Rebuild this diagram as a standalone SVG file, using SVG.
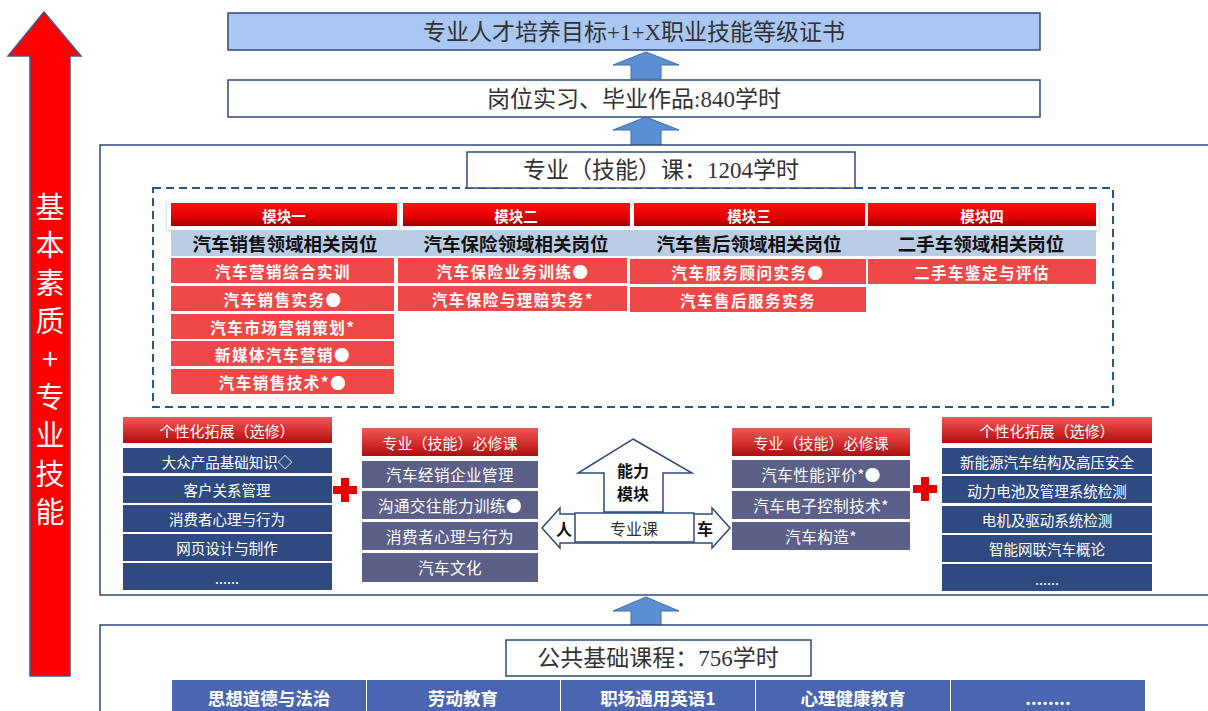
<svg xmlns="http://www.w3.org/2000/svg" width="1208" height="711" viewBox="0 0 1208 711">
<defs>
<linearGradient id="gMod" x1="0" y1="0" x2="0" y2="1">
<stop offset="0" stop-color="#ff1010"/><stop offset="0.65" stop-color="#e00000"/><stop offset="1" stop-color="#980000"/>
</linearGradient>
<linearGradient id="gHdr" x1="0" y1="0" x2="0" y2="1">
<stop offset="0" stop-color="#ea5a5a"/><stop offset="0.5" stop-color="#d83030"/><stop offset="1" stop-color="#a81010"/>
</linearGradient>
<filter id="sh" x="-5%" y="-40%" width="110%" height="180%"><feDropShadow dx="0" dy="1" stdDeviation="1.5" flood-color="#777" flood-opacity="0.5"/></filter>
</defs>
<style>
.frame{fill:#fff;stroke:#2f4a7c;stroke-width:1.5}
.serif{font-family:'Liberation Serif','Noto Sans CJK SC',serif;fill:#333;font-size:23px}
text{font-family:'Noto Sans CJK SC',sans-serif;text-anchor:middle;dominant-baseline:central}
.mod{fill:url(#gMod)}
.modbox{fill:#fff;filter:url(#sh)}
.modt{fill:#fff;font-size:14.5px;font-weight:bold}
.post{fill:#111;font-size:18.5px;font-weight:bold}
.rc{fill:#f04848}
.rct{fill:#fff;font-size:15.5px;font-weight:bold;letter-spacing:1.5px}
.nv{fill:#2f4a80}
.sl{fill:#5c6088}
.hdr{fill:url(#gHdr)}
.hdrt{fill:#fff;font-size:15px}
.nvt{fill:#fff;font-size:14.5px}
.slt{fill:#fff;font-size:15.5px;letter-spacing:0.5px}
.blu{fill:#4a66b0}
.blut{fill:#fff;font-size:17.5px;font-weight:bold}
.arr{fill:#5b8fd3;stroke:#3e6cad;stroke-width:1}
.shape{fill:#fff;stroke:#2e4a7a;stroke-width:1.5}
.cross{fill:#e80000}
.ab{font-size:16px;font-weight:bold;fill:#111}
</style>

<g id="growth-arrow">
<polygon points="44,12 81,56 70,56 70,676 30,676 30,56 8,56" fill="#ff0000" stroke="#3d5a8f" stroke-width="1.5"/>
<g fill="#fff" font-size="29">
<text x="50" y="205">基</text>
<text x="50" y="243">本</text>
<text x="50" y="281">素</text>
<text x="50" y="319">质</text>
<text x="50" y="357">+</text>
<text x="50" y="395">专</text>
<text x="50" y="433">业</text>
<text x="50" y="472">技</text>
<text x="50" y="510">能</text>
</g>
</g>

<g id="goal">
<rect x="228" y="13" width="812" height="37" fill="#a9c7f2" stroke="#2f4a7c" stroke-width="1.5"/>
<text class="serif" x="634" y="32">专业人才培养目标+1+X职业技能等级证书</text>
</g>

<g id="internship">
<rect class="frame" x="228" y="80" width="812" height="37"/>
<text class="serif" x="634" y="99">岗位实习、毕业作品:840学时</text>
</g>

<g id="connectors">
<polygon class="arr" points="646,52 679,65 661,65 661,79 631,79 631,65 613,65"/>
<polygon class="arr" points="646,117 679,130 661,130 661,145 631,145 631,130 613,130"/>
<polygon class="arr" points="646,597 679,611 661,611 661,625 631,625 631,611 613,611"/>
</g>

<g id="professional">
<rect class="frame" x="100" y="145" width="1115" height="450"/>
<rect x="153" y="188" width="960" height="219" fill="none" stroke="#1f5a8a" stroke-width="2" stroke-dasharray="8 5"/>
<rect class="frame" x="467" y="152" width="388" height="36"/>
<text class="serif" x="661" y="170">专业（技能）课：1204学时</text>
</g>

<g id="module1">
<rect class="modbox" x="167" y="200" width="233" height="30"/>
<rect class="mod" x="171" y="203" width="226" height="23"/>
<text class="modt" x="284" y="215">模块一</text>
<rect x="171" y="230" width="226" height="26" fill="#b9cde5"/>
<text class="post" x="285" y="243">汽车销售领域相关岗位</text>
<rect class="rc" x="171" y="258" width="223" height="25"/>
<text class="rct" x="283" y="271">汽车营销综合实训</text>
<rect class="rc" x="171" y="286" width="223" height="25"/>
<text class="rct" x="283" y="299">汽车销售实务●</text>
<rect class="rc" x="171" y="314" width="223" height="25"/>
<text class="rct" x="283" y="327">汽车市场营销策划*</text>
<rect class="rc" x="171" y="341" width="223" height="25"/>
<text class="rct" x="283" y="354">新媒体汽车营销●</text>
<rect class="rc" x="171" y="369" width="223" height="25"/>
<text class="rct" x="283" y="382">汽车销售技术*●</text>
</g>

<g id="module2">
<rect class="modbox" x="400" y="200" width="233" height="30"/>
<rect class="mod" x="403" y="203" width="227" height="23"/>
<text class="modt" x="516" y="215">模块二</text>
<rect x="397" y="230" width="233" height="26" fill="#b9cde5"/>
<text class="post" x="516" y="243">汽车保险领域相关岗位</text>
<rect class="rc" x="398" y="258" width="229" height="25"/>
<text class="rct" x="513" y="271">汽车保险业务训练●</text>
<rect class="rc" x="398" y="286" width="229" height="25"/>
<text class="rct" x="513" y="299">汽车保险与理赔实务*</text>
</g>

<g id="module3">
<rect class="modbox" x="630" y="200" width="236" height="30"/>
<rect class="mod" x="634" y="203" width="231" height="23"/>
<text class="modt" x="749" y="215">模块三</text>
<rect x="630" y="230" width="236" height="26" fill="#b9cde5"/>
<text class="post" x="749" y="243">汽车售后领域相关岗位</text>
<rect class="rc" x="630" y="259" width="236" height="25"/>
<text class="rct" x="748" y="272">汽车服务顾问实务●</text>
<rect class="rc" x="630" y="287" width="236" height="25"/>
<text class="rct" x="748" y="300">汽车售后服务实务</text>
</g>

<g id="module4">
<rect class="modbox" x="866" y="200" width="233" height="30"/>
<rect class="mod" x="868" y="203" width="228" height="23"/>
<text class="modt" x="982" y="215">模块四</text>
<rect x="866" y="230" width="230" height="26" fill="#b9cde5"/>
<text class="post" x="981" y="243">二手车领域相关岗位</text>
<rect class="rc" x="868" y="259" width="228" height="25"/>
<text class="rct" x="982" y="272">二手车鉴定与评估</text>
</g>

<g id="elective-left">
<rect class="hdr" x="123" y="417" width="209" height="26"/>
<text class="hdrt" x="227" y="430">个性化拓展（选修）</text>
<rect class="nv" x="123" y="448" width="209" height="25"/>
<text class="nvt" x="227" y="461">大众产品基础知识◇</text>
<rect class="nv" x="123" y="476" width="209" height="27"/>
<text class="nvt" x="227" y="489">客户关系管理</text>
<rect class="nv" x="123" y="505" width="209" height="27"/>
<text class="nvt" x="227" y="518">消费者心理与行为</text>
<rect class="nv" x="123" y="534" width="209" height="27"/>
<text class="nvt" x="227" y="547">网页设计与制作</text>
<rect class="nv" x="123" y="563" width="209" height="27"/>
<text class="nvt" x="227" y="577">......</text>
</g>

<g id="plus-left">
<rect class="cross" x="341" y="478" width="8" height="24"/>
<rect class="cross" x="333" y="486" width="24" height="8"/>
</g>

<g id="required-left">
<rect class="hdr" x="362" y="428" width="176" height="28"/>
<text class="hdrt" x="450" y="442">专业（技能）必修课</text>
<rect class="sl" x="362" y="461" width="176" height="27"/>
<text class="slt" x="450" y="474">汽车经销企业管理</text>
<rect class="sl" x="362" y="491" width="176" height="28"/>
<text class="slt" x="450" y="505">沟通交往能力训练●</text>
<rect class="sl" x="362" y="522" width="176" height="28"/>
<text class="slt" x="450" y="536">消费者心理与行为</text>
<rect class="sl" x="362" y="553" width="176" height="29"/>
<text class="slt" x="450" y="567">汽车文化</text>
</g>

<g id="ability-module">
<polygon class="shape" points="633,439 692,473 663,473 663,512 604,512 604,473 578,473"/>
<polygon class="shape" points="542,528 560,508 560,514 712,514 712,508 730,528 712,548 712,543 560,543 560,548"/>
<rect class="shape" x="575" y="513" width="119" height="29"/>
<text class="ab" x="633" y="470">能力</text>
<text class="ab" x="633" y="493">模块</text>
<text class="ab" x="564" y="528">人</text>
<text class="ab" x="705" y="528">车</text>
<text x="634" y="528" font-size="16" fill="#333">专业课</text>
</g>

<g id="required-right">
<rect class="hdr" x="732" y="428" width="178" height="28"/>
<text class="hdrt" x="821" y="442">专业（技能）必修课</text>
<rect class="sl" x="732" y="460" width="178" height="28"/>
<text class="slt" x="821" y="474">汽车性能评价*●</text>
<rect class="sl" x="732" y="491" width="178" height="28"/>
<text class="slt" x="821" y="505">汽车电子控制技术*</text>
<rect class="sl" x="732" y="522" width="178" height="28"/>
<text class="slt" x="821" y="536">汽车构造*</text>
</g>

<g id="plus-right">
<rect class="cross" x="921" y="477" width="8" height="24"/>
<rect class="cross" x="913" y="485" width="24" height="8"/>
</g>

<g id="elective-right">
<rect class="hdr" x="942" y="417" width="210" height="26"/>
<text class="hdrt" x="1047" y="430">个性化拓展（选修）</text>
<rect class="nv" x="942" y="448" width="210" height="26"/>
<text class="nvt" x="1047" y="461">新能源汽车结构及高压安全</text>
<rect class="nv" x="942" y="476" width="210" height="27"/>
<text class="nvt" x="1047" y="490">动力电池及管理系统检测</text>
<rect class="nv" x="942" y="506" width="210" height="27"/>
<text class="nvt" x="1047" y="519">电机及驱动系统检测</text>
<rect class="nv" x="942" y="535" width="210" height="27"/>
<text class="nvt" x="1047" y="548">智能网联汽车概论</text>
<rect class="nv" x="942" y="564" width="210" height="27"/>
<text class="nvt" x="1047" y="578">......</text>
</g>

<g id="public-basic">
<rect class="frame" x="100" y="625" width="1115" height="100"/>
<rect class="frame" x="506" y="640" width="305" height="36"/>
<text class="serif" x="658" y="658">公共基础课程：756学时</text>
<rect class="blu" x="172" y="680" width="194" height="35"/>
<text class="blut" x="269" y="697">思想道德与法治</text>
<rect class="blu" x="367" y="680" width="193" height="35"/>
<text class="blut" x="463" y="697">劳动教育</text>
<rect class="blu" x="561" y="680" width="194" height="35"/>
<text class="blut" x="658" y="697">职场通用英语1</text>
<rect class="blu" x="756" y="680" width="194" height="35"/>
<text class="blut" x="853" y="697">心理健康教育</text>
<rect class="blu" x="951" y="680" width="194" height="35"/>
<text class="blut" x="1048" y="697">........</text>
</g>
</svg>
